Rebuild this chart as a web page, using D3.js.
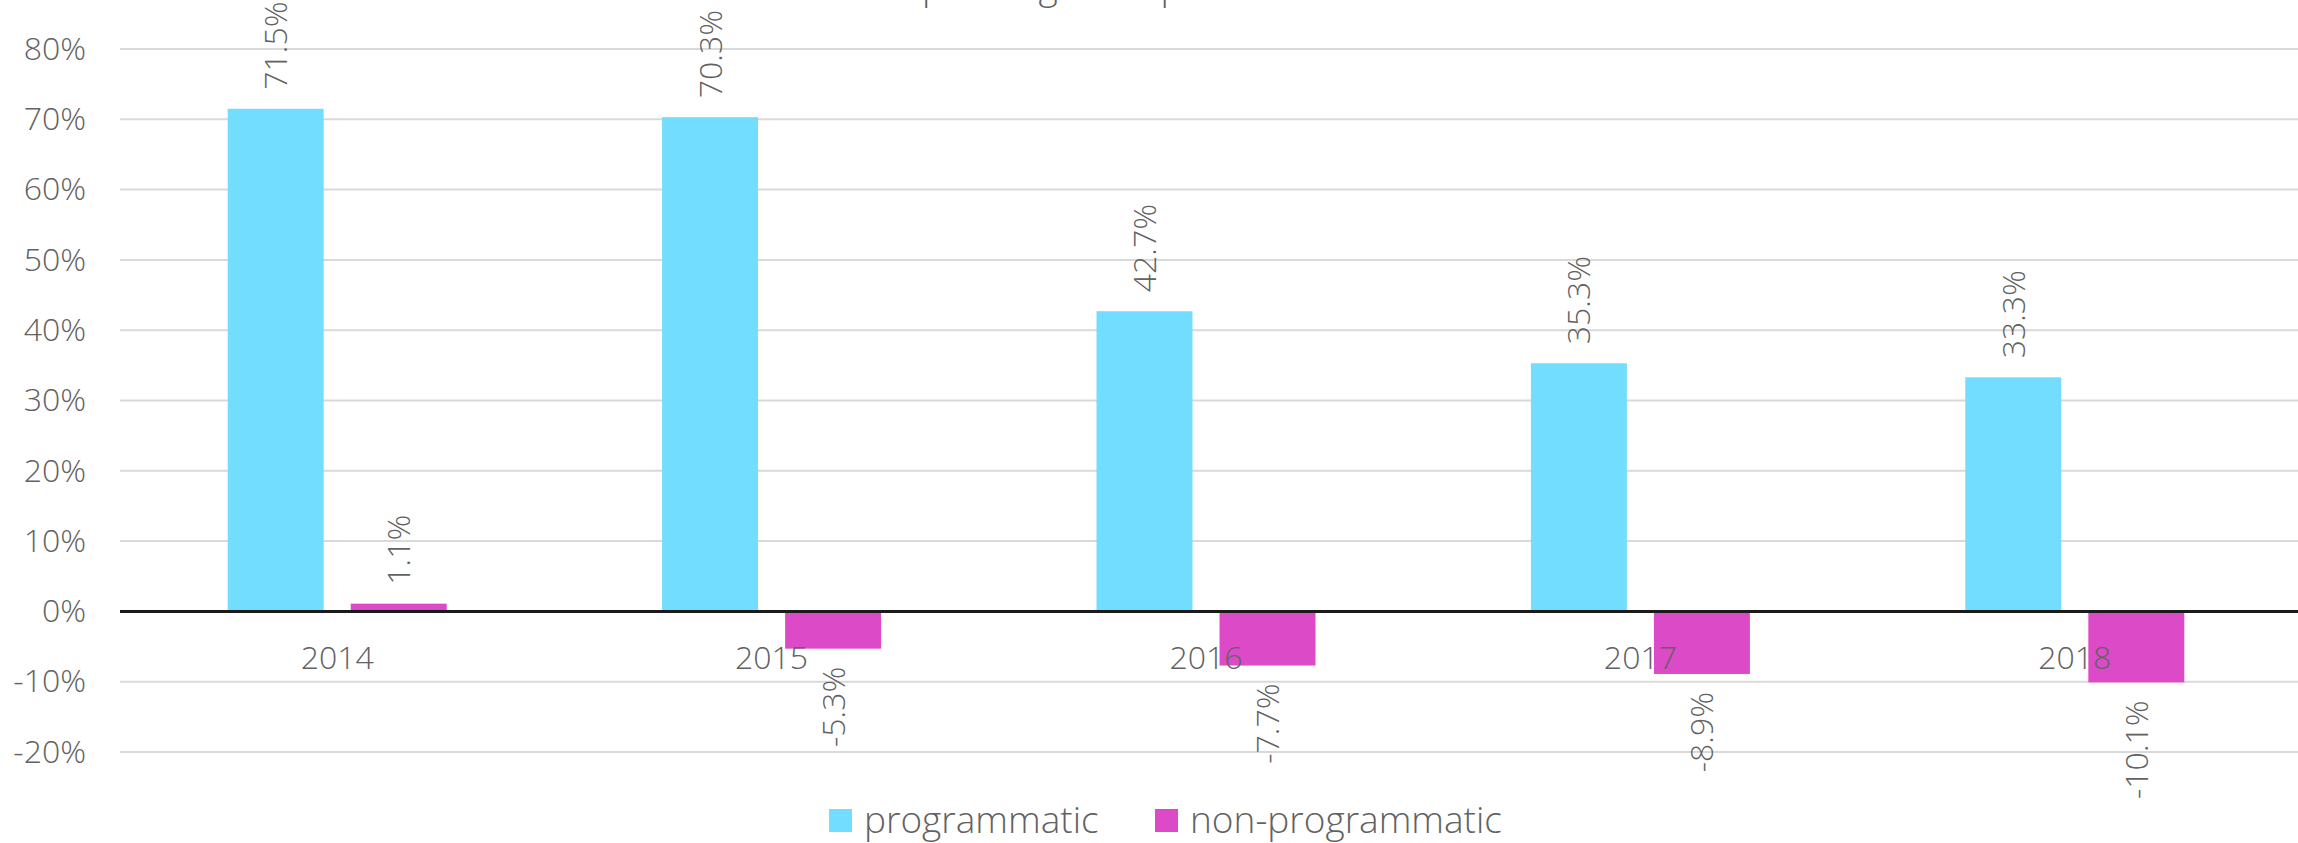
<!DOCTYPE html>
<html>
<head>
<meta charset="utf-8">
<script src="https://cdn.jsdelivr.net/npm/d3@7"></script>
<style>
  body { margin: 0; background: #fff; }
  text { font-family: "Open Sans", sans-serif; font-weight: 300; fill: #626262; }
</style>
</head>
<body>
<script>
(function() {
    var w = 2298;
    var h = 843;

    var years = ["2014", "2015", "2016", "2017", "2018"];
    var programmatic = [71.5, 70.3, 42.7, 35.3, 33.3];
    var nonProgrammatic = [1.1, -5.3, -7.7, -8.9, -10.1];
    var seriesNames = ["programmatic", "non-programmatic"];
    var yTicks = [-20, -10, 0, 10, 20, 30, 40, 50, 60, 70, 80];
    var title = "Video Ad Spending and Spend Growth";

    var colors = ["#72DDFE", "#DD4AC7"];

    var svg = d3.select("body").append("svg")
        .attr("width", w)
        .attr("height", h);

    var x = d3.scaleBand().domain(years).range([120, 2292]);
    var inner = d3.scaleBand().domain(seriesNames).range([0, 219]).paddingInner(0.22);
    var groupOffset = (x.bandwidth() - 219) / 2;
    var y = d3.scaleLinear().domain([-20, 80]).range([752, 49]);

    //title, mostly above the top edge (only descenders show, like the original)
    var t = svg.append("text")
        .attr("x", 0)
        .attr("y", -1)
        .style("font-size", "37px")
        .text(title);
    var pIdx = title.indexOf("pending");
    var pPos = t.node().getStartPositionOfChar(pIdx).x;
    t.attr("x", 922 - pPos);

    //grid lines
    svg.append("g")
        .selectAll("line")
        .data(yTicks.filter(function(d) { return d !== 0; }))
        .enter()
        .append("line")
        .attr("x1", 120)
        .attr("x2", w)
        .attr("y1", function(d) { return y(d); })
        .attr("y2", function(d) { return y(d); })
        .attr("stroke", "#d9d9d9")
        .attr("stroke-width", 2);

    //y axis labels
    var yAxis = d3.axisLeft(y)
        .tickValues(yTicks)
        .tickSize(0)
        .tickPadding(0)
        .tickFormat(function(d) { return d + "%"; });
    var yg = svg.append("g").attr("transform", "translate(86,0)").call(yAxis);
    yg.select(".domain").remove();
    yg.selectAll("text")
        .style("font-size", "32px")
        .style("font-family", null)
        .attr("fill", null);

    var data = years.map(function(yr, i) {
        return { year: yr, values: [programmatic[i], nonProgrammatic[i]] };
    });

    var groups = svg.append("g")
        .selectAll("g")
        .data(data)
        .enter()
        .append("g")
        .attr("transform", function(d) { return "translate(" + (x(d.year) + groupOffset) + ",0)"; });

    groups.selectAll("rect")
        .data(function(d) { return d.values.map(function(v, j) { return { name: seriesNames[j], value: v, j: j }; }); })
        .enter()
        .append("rect")
        .attr("x", function(d) { return inner(d.name); })
        .attr("width", inner.bandwidth())
        .attr("y", function(d) { return y(Math.max(0, d.value)); })
        .attr("height", function(d) { return Math.abs(y(d.value) - y(0)); })
        .attr("fill", function(d) { return colors[d.j]; });

    //value labels, rotated
    groups.selectAll("text.val")
        .data(function(d) { return d.values.map(function(v, j) { return { name: seriesNames[j], value: v }; }); })
        .enter()
        .append("text")
        .attr("class", "val")
        .attr("transform", function(d) {
            var cx = inner(d.name) + inner.bandwidth() / 2;
            var cy = d.value >= 0 ? y(d.value) - 19 : y(d.value) + 18;
            return "translate(" + cx + "," + cy + ") rotate(-90)";
        })
        .attr("dy", "0.36em")
        .attr("text-anchor", function(d) { return d.value >= 0 ? "start" : "end"; })
        .style("font-size", "32px")
        .text(function(d) { return d.value.toFixed(1) + "%"; });

    //zero line
    svg.append("line")
        .attr("x1", 120)
        .attr("x2", w)
        .attr("y1", y(0))
        .attr("y2", y(0))
        .attr("stroke", "#1a1a1a")
        .attr("stroke-width", 3);

    //category labels
    var xAxis = d3.axisBottom(x).tickSize(0).tickPadding(0);
    var xg = svg.append("g").attr("transform", "translate(0," + y(0) + ")").call(xAxis);
    xg.select(".domain").remove();
    xg.selectAll("text")
        .attr("dy", null)
        .attr("y", 58)
        .style("font-size", "32px")
        .style("font-family", null)
        .attr("fill", null);

    //legend
    var legendX = [829, 1155];
    var legend = svg.append("g")
        .selectAll("g")
        .data(seriesNames)
        .enter()
        .append("g")
        .attr("transform", function(d, i) { return "translate(" + legendX[i] + ",809)"; });
    legend.append("rect")
        .attr("width", 23)
        .attr("height", 23)
        .attr("fill", function(d, i) { return colors[i]; });
    legend.append("text")
        .attr("x", 35)
        .attr("y", 24)
        .style("font-size", "37px")
        .text(function(d) { return d; });
})();
</script>
</body>
</html>
